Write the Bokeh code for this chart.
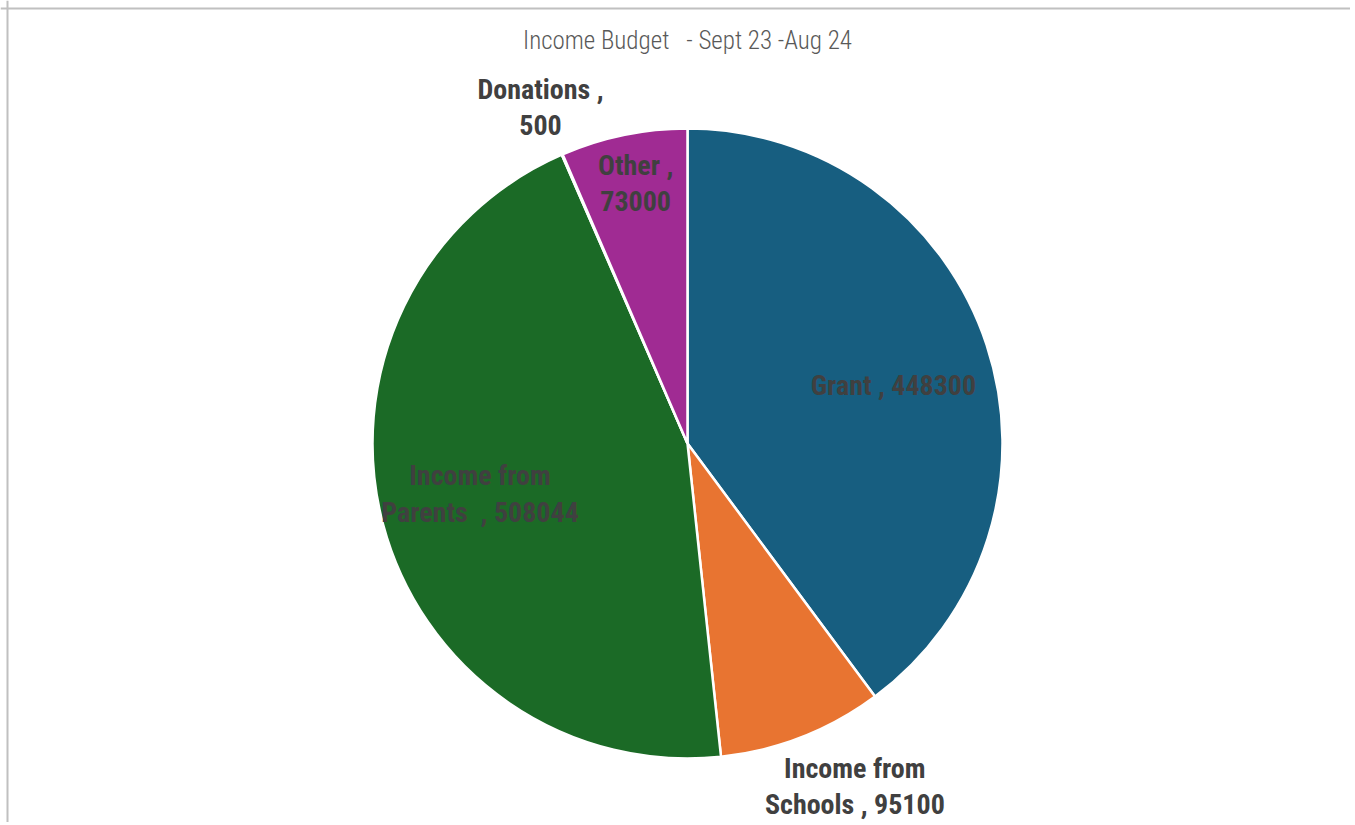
import math
from bokeh.plotting import figure
from bokeh.models import Range1d, Span, ColumnDataSource
from bokeh.core.properties import value
from bokeh.embed import file_html
from bokeh.resources import INLINE

# ---- data ----
categories = ["Grant", "Income from\nSchools", "Income from\nParents\u00a0", "Donations", "Other"]
amounts = [448300, 95100, 508044, 500, 73000]
label_breaks = [" , ", " , ", " , ", " ,\n", " ,\n"]
colors = ["#175e80", "#e87431", "#1b6a26", "#a02b93", "#a02b93"]
label_radius = [0.679, 1.211, 0.678, 1.164, 0.842]
label_angle_shift = [2.6, -4.7, 1.1, -0.2, 0.4]   # degrees, clockwise
title_text = "Income Budget\u00a0\u00a0 - Sept 23 -Aug 24"

W, H = 1350, 822
cx, cy, R = 687, H - 443, 315
FONT = "Roboto Condensed, DejaVu Sans Condensed, Liberation Sans Narrow, sans-serif"
TFONT = "Roboto Condensed Light, Roboto Condensed, sans-serif"

total = float(sum(amounts))
starts, ends, lx, ly, texts = [], [], [], [], []
cum = 0.0
for i, a in enumerate(amounts):
    f0 = cum / total
    cum += a
    f1 = cum / total
    s = math.pi / 2 - 2 * math.pi * f0
    e = math.pi / 2 - 2 * math.pi * f1
    starts.append(s)
    ends.append(e)
    m = (s + e) / 2 - math.radians(label_angle_shift[i])
    lx.append(cx + label_radius[i] * R * math.cos(m))
    ly.append(cy + label_radius[i] * R * math.sin(m))
    texts.append(categories[i] + label_breaks[i] + str(a))

src = ColumnDataSource(dict(start=starts, end=ends, color=colors,
                            x=lx, y=ly, text=texts))

p = figure(width=W, height=H, output_backend="svg", toolbar_location=None,
           x_range=Range1d(0, W), y_range=Range1d(0, H), min_border=0)
p.axis.visible = False
p.grid.visible = False
p.outline_line_color = None
p.background_fill_color = "white"
p.border_fill_color = "white"

p.wedge(x=cx, y=cy, radius=R, start_angle="start", end_angle="end",
        direction="clock", fill_color="color", line_color="white",
        line_width=2.5, source=src)

p.text(x="x", y="y", text="text", source=src, text_align="center",
       text_baseline="middle", text_font=value(FONT), text_font_style="bold",
       text_font_size="28px", text_color="#404040", text_line_height=1.1)

p.text(x=[cx], y=[H - 40], text=[title_text], text_align="center",
       text_baseline="middle", text_font=value(TFONT),
       text_font_size="25px", text_color="#595959")

p.add_layout(Span(location=7, dimension="height", line_color="#c0c0c0", line_width=2))
p.add_layout(Span(location=H - 8, dimension="width", line_color="#c0c0c0", line_width=2))

open("out.html", "w").write(file_html(p, INLINE))
